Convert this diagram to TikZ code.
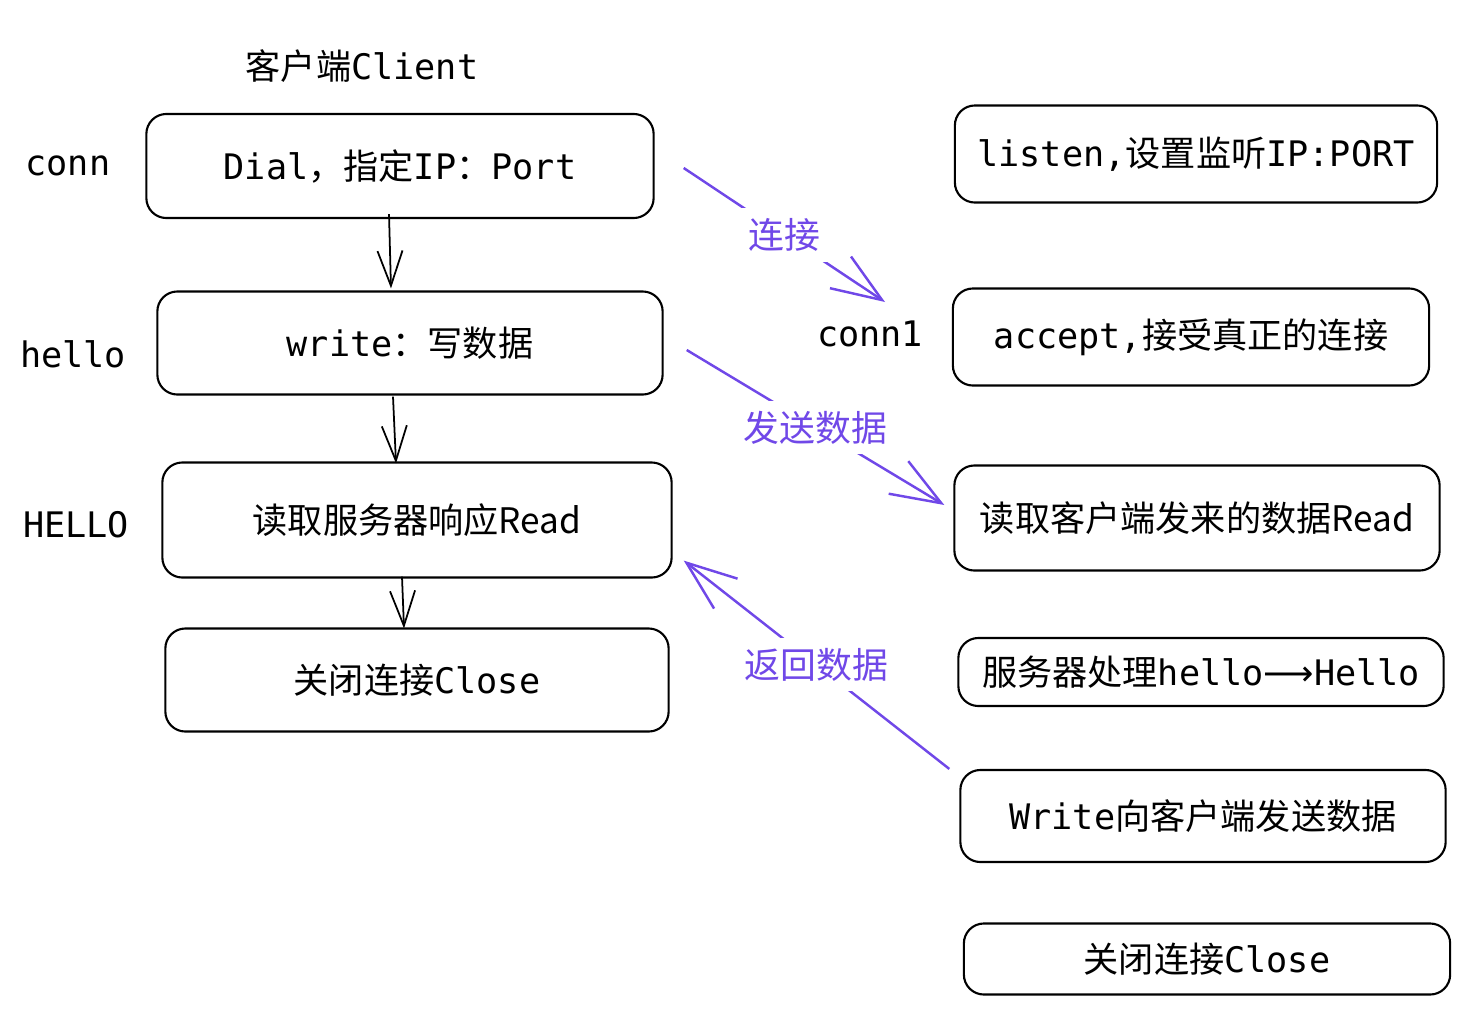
\documentclass[tikz,border=0pt]{standalone}
\usepackage{fontspec}
\setmainfont{DejaVu Sans Mono}
\newfontfamily\cjk{Noto Sans CJK SC}
\newfontfamily\arrowfont{DejaVu Sans}
\usetikzlibrary{arrows.meta}
\definecolor{linkpurple}{HTML}{7048E8}
\newcommand\zh[1]{{\cjk #1}}

\begin{document}
\begin{tikzpicture}[x=0.01cm,y=-0.01cm,
    box/.style={draw,rounded corners=0.2cm,line width=0.6pt,inner sep=0pt,font=\fontsize{10}{12}\selectfont},
    side/.style={font=\fontsize{10}{12}\selectfont},
    flow/.style={-{Straight Barb[length=0.35cm,width=0.25cm]},line width=0.5pt},
    msg/.style={-{Straight Barb[length=0.5cm,width=0.38cm]},draw=linkpurple,line width=0.7pt},
    msglabel/.style={fill=white,text=linkpurple,inner sep=0.1cm,font=\cjk\fontsize{10.2}{12}\selectfont}]
    \useasboundingbox (0,0) rectangle (1479,1021);

    % Client side
    \node[side] (title) at (362,66) {\zh{客户端}Client};
    \node[box,minimum width=5.07cm,minimum height=1.04cm] (dial) at (400,166) {Dial\zh{，指定}IP\zh{：}Port};
    \node[box,minimum width=5.05cm,minimum height=1.03cm] (write) at (410,343) {write\zh{：写数据}};
    \node[box,minimum width=5.09cm,minimum height=1.15cm] (read) at (417,520) {\zh{读取服务器响应Read}};
    \node[box,minimum width=5.03cm,minimum height=1.03cm] (close) at (417,680) {\zh{关闭连接}Close};

    % Values held by the client
    \node[side] (conn) at (68,166) {conn};
    \node[side] (hello) at (73,354) {hello};
    \node[side] (upper) at (76,525) {HELLO};

    % Server side
    \node[box,minimum width=4.82cm,minimum height=0.97cm] (listen) at (1196,154) {listen,\zh{设置监听}IP:PORT};
    \node[box,minimum width=4.76cm,minimum height=0.97cm] (accept) at (1191,337) {accept,\zh{接受真正的连接}};
    \node[box,minimum width=4.85cm,minimum height=1.05cm] (sread) at (1197,518) {\zh{读取客户端发来的数据Read}};
    \node[box,minimum width=4.85cm,minimum height=0.68cm] (handle) at (1201,672) {\zh{服务器处理}hello{\arrowfont ⟶}Hello};
    \node[box,minimum width=4.85cm,minimum height=0.92cm] (swrite) at (1203,816) {Write\zh{向客户端发送数据}};
    \node[box,minimum width=4.86cm,minimum height=0.71cm] (sclose) at (1207,959) {\zh{关闭连接}Close};
    \node[side] (conn1) at (870,334) {conn1};

    % Client steps
    \draw[flow] ([shift={(-11,-5)}]dial.south) -- ([shift={(-19,-2)}]write.north);
    \draw[flow] ([shift={(-17,1)}]write.south) -- ([shift={(-21,2)}]read.north);
    \draw[flow] ([shift={(-15,-2)}]read.south) -- ([shift={(-13,1)}]close.north);

    % Messages between client and server
    \draw[msg] ([shift={(29,2)}]dial.east) -- node[msglabel] (lconnect) {连接} ([shift={(15,-32)}]conn1.center);
    \draw[msg] ([shift={(23,7)}]write.east) -- node[msglabel] (lsend) {发送数据} ([shift={(-9,-13)}]sread.west);
    \draw[msg] ([shift={(-10,0)}]swrite.north west) -- node[msglabel] (lreturn) {返回数据} ([shift={(11,-18)}]read.south east);
\end{tikzpicture}
\end{document}
